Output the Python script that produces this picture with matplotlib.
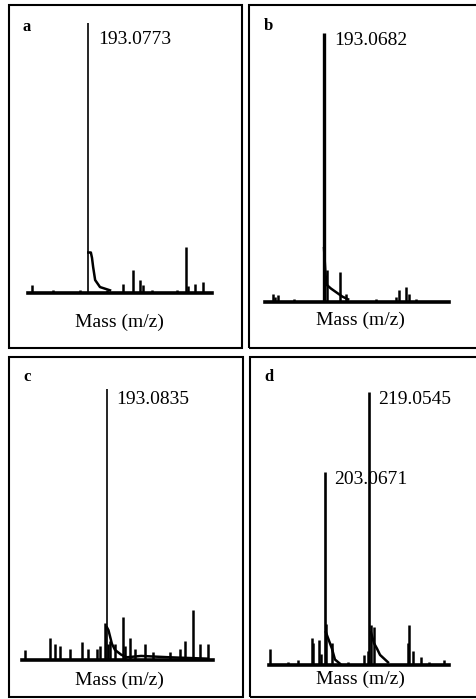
import matplotlib
matplotlib.use("Agg")
import matplotlib.pyplot as plt
from matplotlib.patches import Rectangle

plt.rcParams["font.family"] = ["Liberation Serif", "DejaVu Serif"]

# ---------------- data (m/z, relative intensity %) ----------------
A_XLIM = (172.0, 236.4)
A_MZ = [173.4, 180.8, 190.2, 199.7, 205.3, 208.8, 211.2, 212.3, 215.4, 224.2, 227.3, 228.0, 230.5, 233.3]
A_INT = [3, 1, 1, 1, 3.5, 8.5, 5, 3, 1, 1, 17, 2.5, 3.5, 4]
A_MAIN_MZ = [193.0773]
A_MAIN_INT = [100]
A_MAIN_LABEL = ["193.0773"]
A_TAIL_MZ = [193.1, 194.0, 194.4, 194.8, 195.5, 197.2, 200.7]
A_TAIL_INT = [15, 15, 13, 9.6, 4.8, 2.2, 1]

B_XLIM = (172.42, 236.8)
B_MZ = [175.2, 175.9, 177.0, 182.6, 194.1, 198.7, 200.8, 211.3, 218.3, 219.3, 221.8, 222.8, 225.3]
B_INT = [3, 2, 2.5, 1, 12, 11, 3, 1, 2, 4.5, 5.5, 3, 1]
B_MAIN_MZ = [193.0682]
B_MAIN_INT = [100]
B_MAIN_LABEL = ["193.0682"]
B_TAIL_MZ = [193.07, 193.6, 194.1, 195.5, 197.5, 199.5, 201.5]
B_TAIL_INT = [20, 10, 6.3, 5, 3.5, 2, 1]

C_XLIM = (163.33, 230.2)
C_MZ = [164.4, 173.1, 174.9, 176.6, 180.1, 184.3, 186.4, 189.6, 190.6, 192.4, 193.4, 194.1,
        195.9, 198.7, 199.4, 201.1, 202.9, 206.4, 209.2, 215.1, 218.6, 220.4, 223.2, 225.6, 228.4]
C_INT = [3.7, 8, 6, 5, 4, 6.6, 4, 4, 5, 13.6, 6, 7,
         6, 16, 5, 8, 4, 6, 3, 3, 4, 7, 18.5, 6, 6]
C_MAIN_MZ = [193.0835]
C_MAIN_INT = [100]
C_MAIN_LABEL = ["193.0835"]
C_TAIL_MZ = [193.1, 193.6, 194.8, 195.9, 198.0, 200.0, 205.0, 215.0, 228.0]
C_TAIL_INT = [12, 11, 6, 3.7, 2, 1, 1.5, 1, 0.5]

D_XLIM = (182.7, 248.2)
D_MZ = [182.9, 189.6, 193.2, 198.3, 198.7, 200.9, 201.6, 203.4, 205.6, 211.4, 217.2, 218.7,
        219.8, 220.9, 233.2, 233.6, 235.1, 238.0, 240.9, 246.3]
D_INT = [6, 1, 2, 10, 8, 9, 4, 15, 8, 1, 3.5, 5,
         14.6, 14, 8, 14.6, 5, 3, 1, 2]
D_MAIN_MZ = [203.0671, 219.0545]
D_MAIN_INT = [70.7, 100]
D_MAIN_LABEL = ["203.0671", "219.0545"]
D_TAIL_MZ = [203.4, 204.5, 205.6, 206.7, 208.5, 219.8, 220.9, 222.0, 223.1, 226.0]
D_TAIL_INT = [12, 9, 6, 2, 0.5, 12, 8, 6, 3.7, 1]

PANEL_LETTERS = ["a", "b", "c", "d"]
XLABEL = "Mass (m/z)"

# ---------------- layout (pixels) ----------------
W, H = 476, 699
fig = plt.figure(figsize=(W / 100, H / 100), dpi=100)


def fx(px):
    return px / W


def fy(py):
    return 1 - py / H


panels = [
    dict(letter=PANEL_LETTERS[0], frame=(9, 5, 242, 348), ax=(28, 23, 212, 293),
         xlim=A_XLIM, mz=A_MZ, inten=A_INT, main_mz=A_MAIN_MZ, main_int=A_MAIN_INT,
         main_lab=A_MAIN_LABEL, main_lw=[1.2], tail=(A_TAIL_MZ, A_TAIL_INT),
         lab_off=[(10, -17)], letter_pos=(27, 27), xl_pos=(119, 322)),
    dict(letter=PANEL_LETTERS[1], frame=(249, 5, 490, 348), ax=(265, 33, 449, 302),
         xlim=B_XLIM, mz=B_MZ, inten=B_INT, main_mz=B_MAIN_MZ, main_int=B_MAIN_INT,
         main_lab=B_MAIN_LABEL, main_lw=[2.4], tail=(B_TAIL_MZ, B_TAIL_INT),
         lab_off=[(10, -8)], letter_pos=(268, 26), xl_pos=(360, 320)),
    dict(letter=PANEL_LETTERS[2], frame=(9, 357, 243, 697), ax=(22, 389, 213, 660),
         xlim=C_XLIM, mz=C_MZ, inten=C_INT, main_mz=C_MAIN_MZ, main_int=C_MAIN_INT,
         main_lab=C_MAIN_LABEL, main_lw=[1.2], tail=(C_TAIL_MZ, C_TAIL_INT),
         lab_off=[(9, -11)], letter_pos=(27, 377), xl_pos=(119, 680)),
    dict(letter=PANEL_LETTERS[3], frame=(250, 357, 490, 697), ax=(269, 392, 449, 665),
         xlim=D_XLIM, mz=D_MZ, inten=D_INT, main_mz=D_MAIN_MZ, main_int=D_MAIN_INT,
         main_lab=D_MAIN_LABEL, main_lw=[1.9, 1.9], tail=None,
         lab_off=[(9, -8), (9, -7)], letter_pos=(269, 377), xl_pos=(360, 679)),
]

for p in panels:
    x0, y0, x1, y1 = p["frame"]
    fig.add_artist(Rectangle((fx(x0), fy(y1)), (x1 - x0) / W, (y1 - y0) / H,
                             fill=False, lw=1.5, edgecolor="black",
                             transform=fig.transFigure))
    ax0, ay0, ax1, ay1 = p["ax"]
    ax = fig.add_axes([fx(ax0), fy(ay1), (ax1 - ax0) / W, (ay1 - ay0) / H])
    ax.set_xlim(*p["xlim"])
    ax.set_ylim(0, 100)
    for s in ax.spines.values():
        s.set_visible(False)
    ax.set_xticks([])
    ax.set_yticks([])
    ax.patch.set_alpha(0)
    # baseline
    ax.axhline(0, color="black", lw=2.6, clip_on=False)
    # minor sticks
    ax.vlines(p["mz"], 0, p["inten"], color="black", lw=1.8, clip_on=False)
    # tails
    if p["tail"] is not None:
        ax.plot(p["tail"][0], p["tail"][1], color="black", lw=1.8, clip_on=False)
    else:
        tm, ti = D_TAIL_MZ, D_TAIL_INT
        ax.plot(tm[:5], ti[:5], color="black", lw=1.8, clip_on=False)
        ax.plot(tm[5:], ti[5:], color="black", lw=1.8, clip_on=False)
    # main peaks
    for m, i, lab, lw, off in zip(p["main_mz"], p["main_int"], p["main_lab"],
                                  p["main_lw"], p["lab_off"]):
        ax.vlines([m], 0, [i], color="black", lw=lw, clip_on=False)
        ax.annotate(lab, xy=(m, i), xytext=off, textcoords="offset pixels",
                    ha="left", va="center", fontsize=14, annotation_clip=False)
    fig.text(fx(p["letter_pos"][0]), fy(p["letter_pos"][1]), p["letter"],
             ha="center", va="center", fontsize=12, fontweight="bold")
    fig.text(fx(p["xl_pos"][0]), fy(p["xl_pos"][1]), XLABEL,
             ha="center", va="center", fontsize=14)

fig.savefig("out.png", dpi=100, facecolor="white")
